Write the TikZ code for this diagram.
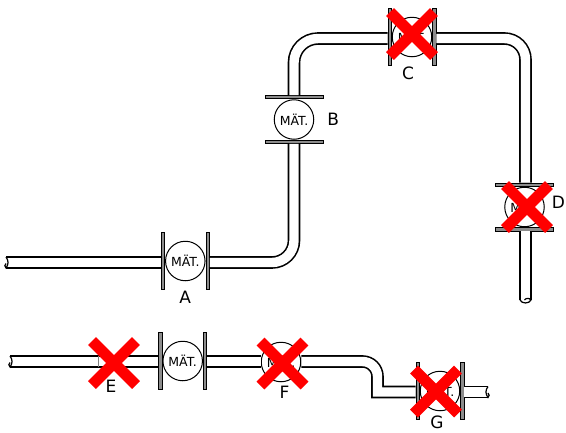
\documentclass[tikz,border=0pt]{standalone}
\usepackage{fontspec}
\setmainfont{DejaVu Sans}
\usetikzlibrary{positioning,shapes.misc}
\tikzset{
    %Define style for meters
    meter/.style={
           circle,
           draw=black, line width=1pt,
           fill=white,
           inner sep=0pt,
           minimum size=39.5pt,
           font=\fontsize{12.5}{12.5}\selectfont,
           text centered},
    %Define styles for flanges
    flangev/.style={
           rectangle,
           draw=black, line width=.8pt,
           fill=black!45,
           inner sep=0pt,
           minimum width=3.4pt,
           minimum height=56.5pt},
    flangeh/.style={
           rectangle,
           draw=black, line width=.8pt,
           fill=black!45,
           inner sep=0pt,
           minimum width=58pt,
           minimum height=3.4pt},
    tag/.style={
           inner sep=0pt,
           font=\fontsize{17}{17}\selectfont},
    % Define pipe style
    pipe/.style={
           draw=black, line width=1.6pt,
           double=white, double distance=9.4pt},
    pipeend/.style={
           draw=black, line width=1.2pt},
    joint/.style={
           rectangle,
           fill=black!50,
           inner sep=0pt,
           minimum width=.8pt,
           minimum height=11pt},
    % Define style for the red marks
    nogo/.style={
           cross out,
           draw=red, line width=11pt,
           inner sep=0pt,
           outer sep=0pt,
           minimum size=44pt}
}
\begin{document}
\begin{tikzpicture}[x=1pt,y=-1pt,node distance=0pt]
\useasboundingbox (0,0) rectangle (566,432);

 %meters
\node[meter](mA) at (185.3,261){MÄT.};
\node[meter](mB) at (294,119.5){MÄT.};
\node[meter](mC) at (412,37){MÄT.};
\node[meter](mD) at (524.5,207){MÄT.};
\node[meter](mH) at (182.7,361){MÄT.};
\node[meter](mF) at (281,362){MÄT.};
\node[meter](mG) at (440,391){MÄT.};

 %flanges
\node[flangev, left=of mA](fA1){};
\node[flangev, right=of mA](fA2){};
\node[flangeh, above=of mB](fB1){};
\node[flangeh, below=of mB](fB2){};
\node[flangev, left=of mC](fC1){};
\node[flangev, right=of mC](fC2){};
\node[flangeh, above=of mD](fD1){};
\node[flangeh, below=of mD](fD2){};
\node[flangev, left=of mH](fH1){};
\node[flangev, right=of mH](fH2){};
\node[flangev, left=of mG](fG1){};
\node[flangev, right=of mG](fG2){};

 %pipe levels and free ends
\coordinate (a0) at (6,262.5);
\coordinate (c0) at (460,38.5);
\coordinate (d0) at (525.5,300);
\coordinate (e0) at (10,361.5);
\coordinate (g0) at (488,392);
\coordinate (k1) at (377.5,361.5);
\coordinate (k2) at (377.5,392);

 %pipes
\path[pipe] (a0) -- (a0 -| fA1.west);
\path[pipe, rounded corners=22pt] (a0 -| fA2.east) -| (fB2.south);
\path[pipe, rounded corners=24pt] (fB1.north) |- (c0 -| fC1.west);
\path[pipe, rounded corners=21pt] (c0 -| fC2.east) -| (d0 |- fD1.north);
\path[pipe] (d0 |- fD2.south) -- (d0);
\path[pipe] (e0) -- (e0 -| fH1.west);
\path[pipe] (e0 -| fH2.east) -- (e0 -| mF.west);
\path[pipe, rounded corners=15pt] (e0 -| mF.east) -- (k1) [sharp corners] -- (k2) -- (k2 -| fG1.west);
\path[pipe] (k2 -| fG2.east) -- (g0);

 %pipe ends
\draw[pipeend] ([yshift=5.4pt]a0) to[bend left=40] ([yshift=-5.4pt]a0) to[bend left=60] ([yshift=-1pt]a0);
\draw[pipeend] ([xshift=-5.4pt]d0) to[bend right=70] ([xshift=5.4pt]d0) to[bend right=60] ([xshift=-1pt]d0);
\draw[pipeend] ([yshift=5.4pt]e0) to[bend left=40] ([yshift=-5.4pt]e0) to[bend left=60] ([yshift=-1pt]e0);
\draw[pipeend] ([yshift=5.4pt]g0) to[bend right=40] ([yshift=-5.4pt]g0) to[bend right=60] ([yshift=-1pt]g0);
\node[joint](jE) at (98.5,361.5){};

 %labels
\node[tag, below=10pt of mA](lA){A};
\node[tag, right=13pt of mB](lB){B};
\node[tag](lC) at (408,73){C};
\node[tag](lD) at (558.5,202){D};
\node[tag](lE) at (111,386){E};
\node[tag](lF) at (284.5,392){F};
\node[tag](lG) at (437,422){G};

 %red marks
\node[nogo](xC) at (412,34){};
\node[nogo](xD) at (527,207){};
\node[nogo](xE) at (114,363){};
\node[nogo](xF) at (282.5,363.5){};
\node[nogo](xG) at (436,391.5){};

\end{tikzpicture}
\end{document}
